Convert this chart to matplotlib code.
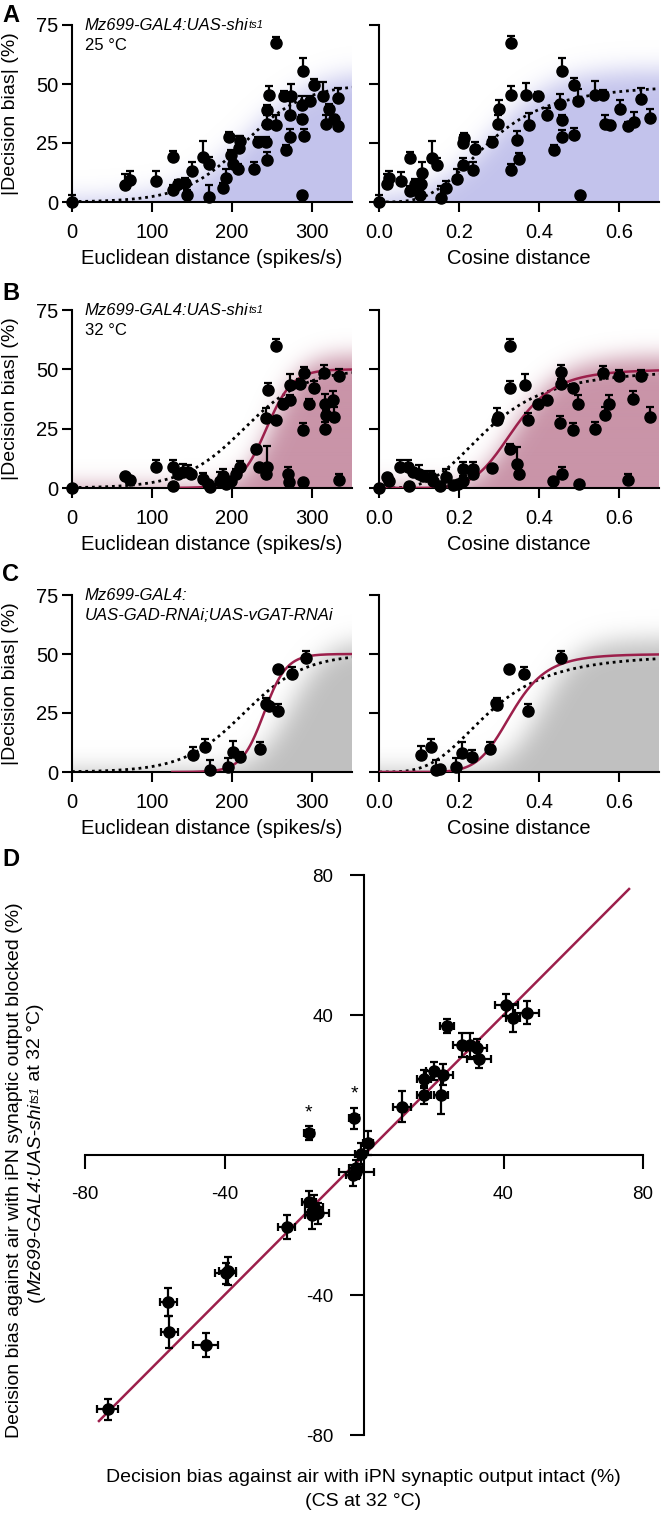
import numpy as np
import matplotlib as mpl
import matplotlib.pyplot as plt
from matplotlib.colors import to_rgb

mpl.rcParams.update({
    'font.family': ['Liberation Sans', 'DejaVu Sans'],
    'font.size': 14,
    'axes.linewidth': 1.5,
    'xtick.major.width': 1.5,
    'ytick.major.width': 1.5,
    'xtick.major.size': 7,
    'ytick.major.size': 7,
})

# ---------------- data: panel A (25 C) ----------------
a_euc_x = [0, 66, 72, 105, 126, 126, 132, 141, 144, 150, 164, 171, 171, 189, 193, 196, 199, 201, 208, 209,
           210, 228, 233, 243, 244, 244, 244, 246, 255, 255, 265, 268, 272, 273, 274, 287, 288, 289, 290, 288,
           297, 303, 314, 317, 321, 327, 333, 333]
a_euc_y = [0, 7, 9.5, 9, 19, 5, 7.5, 8, 3, 13, 19, 16, 2, 6, 10, 27.5, 20, 16, 14, 23,
           26, 14, 25.5, 25.5, 18, 33, 39, 45.5, 67.5, 32.5, 45, 22, 37, 27.5, 45, 35, 41, 55.5, 28, 3,
           43, 49.5, 45, 33, 39.5, 35, 44, 32]
a_euc_err = [3, 5, 3.5, 4, 2.5, 2, 2, 2, 2, 4, 7, 3, 5, 2, 4, 2, 2, 3, 2, 5,
             2, 3, 2, 2, 3, 4, 2, 3.5, 2.5, 4.5, 2, 2, 6, 3.5, 5, 2, 4, 5.5, 3, 0,
             2, 2.5, 6, 4, 2, 2, 4.5, 2]

a_cos_x = [0, 0.021, 0.025, 0.054, 0.077, 0.077, 0.09, 0.103, 0.108, 0.104, 0.132, 0.144, 0.154, 0.167,
           0.196, 0.21, 0.211, 0.212, 0.236, 0.24, 0.282, 0.298, 0.3, 0.329, 0.329, 0.329, 0.346, 0.35,
           0.367, 0.375, 0.3975, 0.419, 0.4375, 0.4525, 0.457, 0.458, 0.458, 0.4875, 0.4875, 0.4975,
           0.5025, 0.539, 0.56, 0.564, 0.578, 0.6025, 0.6225, 0.6375, 0.654, 0.6775]
a_cos_y = [0, 7.8, 10, 8.8, 18.8, 4.7, 7.8, 2.8, 12.3, 7.8, 18.8, 15.8, 1.8, 6.1,
           9.9, 15.8, 24.8, 27.3, 13.4, 22.3, 25.5, 33, 39.2, 13.7, 67.5, 45.5, 26.2, 18.4,
           45.3, 32.5, 44.8, 37, 22, 41.4, 34.7, 55.6, 27.6, 28.3, 49.5, 42.7,
           3, 45.3, 45.3, 33, 32.5, 39.6, 32, 34, 43.6, 35.4]
a_cos_err = [3, 4, 3, 4, 2.5, 2, 2, 2, 4.5, 2, 7, 3, 5, 3,
             4, 3, 3.5, 2, 3.5, 3, 2, 4, 4, 2.5, 3, 3.5, 4, 2.5,
             5, 5, 2, 3, 2, 4.5, 2, 5.5, 3, 3, 3, 5,
             0, 6, 2, 4, 2, 3.5, 2, 4, 4.5, 4]

# ---------------- data: panel B (32 C) ----------------
b_euc_x = [0, 66, 72, 105, 126, 126, 132, 139, 145, 149, 164, 170, 172, 185, 189, 193, 199, 205, 210, 230,
           234, 243, 244, 243, 255, 245, 255, 264, 270, 271, 272, 272, 285, 289, 290, 289, 296, 303, 315, 316,
           316, 318, 326, 328, 334, 334]
b_euc_y = [0, 5.2, 3.4, 9, 8.8, 1, 5.9, 6.6, 6.9, 5.9, 3.8, 1.7, 0.6, 3.1, 5.2, 1.7, 3.1, 5.9, 8.8, 16.5,
           8.8, 5.9, 8.8, 29.3, 28.6, 41.3, 59.7, 35.6, 5.9, 2.4, 37, 43.4, 44, 2.4, 48.4, 24.3, 35.6, 42, 48.4, 25,
           35.6, 30.7, 37, 30, 47.2, 3.4]
b_euc_err = [0, 0, 0, 3, 3, 0, 2, 3.5, 3, 1, 2.5, 0, 0, 3.5, 3, 0, 1, 2, 2.5, 0,
             0, 0, 9, 4.5, 0, 3, 3, 2, 3, 0, 2, 4.5, 2, 0, 2.5, 3, 2, 3, 3.5, 3,
             4, 2, 4, 4, 3, 2.5]

b_cos_x = [0, 0.019, 0.026, 0.0525, 0.073, 0.076, 0.086, 0.101, 0.111, 0.129, 0.134, 0.1525, 0.1675, 0.186,
           0.198, 0.211, 0.211, 0.236, 0.236, 0.282, 0.296, 0.298, 0.3275, 0.3275, 0.3275, 0.344, 0.351, 0.365,
           0.373, 0.397, 0.419, 0.436, 0.4525, 0.457, 0.454, 0.454, 0.486, 0.498, 0.486, 0.5, 0.54, 0.559,
           0.565, 0.576, 0.601, 0.623, 0.636, 0.654, 0.6775]
b_cos_y = [0, 4.8, 3.1, 8.8, 8.8, 1, 6.6, 5.9, 5.2, 4.5, 3.1, 0.7, 4.8, 1.4,
           1.7, 3.1, 8.1, 8.1, 5.9, 8.5, 28.6, 30, 16.5, 42, 59.7, 10.2, 5.9, 43.4,
           28.6, 35.6, 37, 2.8, 27.2, 5.9, 44, 49, 42, 35.6, 24.3, 1.7, 25, 48.4,
           30.7, 35.6, 47.2, 3.4, 37.3, 47.2, 30]
b_cos_err = [0, 0, 0, 3, 3, 0, 2, 4, 2, 2.5, 0, 0, 3, 0,
             0, 2, 3, 3, 0, 0, 5, 0, 2, 3, 3, 7, 0, 4.5,
             3, 0, 0, 0, 3, 3, 2, 3, 2, 3.5, 3, 0, 3, 3,
             3.5, 3.5, 2.5, 2.5, 3.5, 2.5, 4]

# ---------------- data: panel C (GAD/vGAT RNAi) ----------------
c_euc_x = [151, 166, 173, 195, 201, 210, 235, 243, 246, 257.5, 257.5, 275, 292]
c_euc_y = [7.2, 10.6, 0.7, 2.1, 8.6, 6.5, 9.6, 28.7, 28, 43.6, 26, 41.4, 48.2]
c_euc_err = [3.5, 3.5, 4.5, 4, 4.5, 2, 3, 2.5, 0, 0, 3, 3, 3]

c_cos_x = [0.106, 0.129, 0.143, 0.152, 0.193, 0.208, 0.233, 0.278, 0.295, 0.293, 0.326, 0.363, 0.3715, 0.455]
c_cos_y = [7.2, 10.6, 0.7, 1.1, 2.1, 8.2, 6.4, 9.6, 28.4, 29.4, 43.6, 41.4, 25.9, 48.1]
c_cos_err = [3.8, 3.5, 4.5, 0, 4, 4.5, 3, 3, 3, 0, 0, 3, 3, 3]

# fitted curves (parameters)
ctrl_euc_fit = [215, 38]        # logistic x0, slope (dotted, control)
ctrl_cos_fit = [0.274, 3.4]     # Hill k, n (dotted, control)
b_euc_fit = [243, 16.25]        # logistic (red)
b_cos_fit = [0.338, 6.45]       # Hill (red)
c_euc_fit = [240, 14]           # logistic (red)
c_cos_fit = [0.332, 7.5]        # Hill (red)
fit_top = 50

# ---------------- data: panel D ----------------
d_x = [40.8, 46.7, 42.6, 23.9, 28.1, 30.5, 32.3, 33.0, 20.2, 22.6, 17.2, 17.2, 22.0, 10.9, -15.8, -2.8,
       1.2, -1.0, -2.2, -2.2, -3.2, -15.8, -14.3, -13.1, -14.9, -22.2, -39.7, -39.1, -56.1, -55.8, -45.4, -73.5]
d_y = [42.9, 40.7, 39.1, 36.9, 31.4, 31.4, 30.7, 27.4, 24.0, 22.9, 21.7, 17.1, 17.1, 13.8, 6.2, 10.5,
       3.4, 0.3, -3.8, -4.8, -5.8, -13.3, -14.8, -16.6, -17.1, -20.6, -33.8, -33.0, -42.0, -50.5, -54.3, -72.6]
d_xerr = [3.3, 3.5, 2.0, 2.0, 2.5, 2.5, 3.0, 3.5, 2.5, 3.0, 2.0, 2.0, 2.0, 2.5, 1.5, 1.5,
          1.5, 1.5, 2.0, 5.0, 2.0, 2.0, 2.5, 3.0, 2.0, 2.5, 3.0, 2.5, 2.5, 2.5, 3.5, 3.0]
d_yerr = [3.2, 3.3, 4.0, 2.0, 3.5, 3.5, 2.5, 2.5, 2.5, 3.0, 2.5, 2.5, 5.5, 4.5, 2.0, 3.0,
          3.5, 3.0, 2.5, 2.0, 3.0, 3.0, 3.5, 3.0, 4.0, 3.5, 3.0, 4.0, 4.0, 4.5, 3.5, 3.0]
d_star = [14, 15]
d_line = [-76, 76]

RED = '#9c1f4b'
LAVENDER = '#c3c3ec'
MAUVE = '#c994a8'
GREY = '#c0c0c0'

W, H = 664, 1513
fig = plt.figure(figsize=(W / 100, H / 100), dpi=100)


def px_axes(left, top, right, bottom):
    return fig.add_axes([left / W, 1 - bottom / H, (right - left) / W, (bottom - top) / H])


def logistic(x, p):
    return fit_top / (1 + np.exp(-(np.asarray(x) - p[0]) / p[1]))


def hill(x, p):
    r = (np.asarray(x) / p[0]) ** p[1]
    return fit_top * r / (1 + r)


def shade(ax, xmax, boundary, color, sigma):
    # blurred fill under a boundary curve
    nx, ny = 280, 177
    xs = np.linspace(0, xmax, nx)
    ys = np.linspace(0, 75, ny)
    mask = (ys[:, None] <= boundary(xs)[None, :]).astype(float)
    r = int(3 * sigma)
    k = np.exp(-0.5 * (np.arange(-r, r + 1) / sigma) ** 2)
    k /= k.sum()
    m = np.pad(mask, r, mode='edge')
    m = np.apply_along_axis(lambda v: np.convolve(v, k, mode='same'), 0, m)
    m = np.apply_along_axis(lambda v: np.convolve(v, k, mode='same'), 1, m)
    m = m[r:-r, r:-r]
    img = np.zeros((ny, nx, 4))
    img[..., :3] = to_rgb(color)
    img[..., 3] = np.clip(m, 0, 1)
    ax.imshow(img, extent=[0, xmax, 0, 75], origin='lower', aspect='auto',
              interpolation='bilinear', zorder=0)


def style_panel(ax, xmax, xticks, xticklabels, xlabel, left):
    ax.set_xlim(0, xmax)
    ax.set_ylim(0, 75)
    for s in ['top', 'right']:
        ax.spines[s].set_visible(False)
    ax.spines['left'].set_bounds(0, 75)
    ax.set_xticks(xticks)
    ax.set_xticklabels(xticklabels)
    ax.set_yticks([0, 25, 50, 75])
    ax.tick_params(axis='x', pad=8, labelsize=14.5)
    ax.tick_params(axis='y', pad=3, labelsize=14.5)
    if left:
        ax.set_ylabel('|Decision bias| (%)', fontsize=14)
        ax.yaxis.set_label_coords(-0.19, 0.5)
    else:
        ax.set_yticklabels([])
    ax.set_xlabel(xlabel, fontsize=14.5)
    ax.xaxis.set_label_coords(0.5, -0.265)


def points(ax, x, y, err):
    cont = ax.errorbar(x, y, yerr=[np.zeros(len(err)), err], fmt='o', color='black',
                       ms=8, elinewidth=1.6, capsize=3.2, capthick=1.6, zorder=5)
    arts = [cont.lines[0]] + list(cont.lines[1]) + list(cont.lines[2])
    for art in arts:
        art.set_clip_on(False)


def genotype(ax, main, sup, second):
    t = ax.text(0.045, 1.04, main, transform=ax.transAxes, style='italic', fontsize=12,
                va='top', ha='left')
    if sup:
        ax.annotate(sup, xy=(1, 1), xycoords=t, xytext=(0.3, -1.5), textcoords='offset points',
                    style='italic', fontsize=8, va='top', ha='left')
    ax.text(0.045, 0.928, second, transform=ax.transAxes, fontsize=12, va='top', ha='left',
            style='italic' if 'UAS' in second else 'normal')


rows = [(25, 202), (310, 488), (595, 772)]
euc_ticks = [0, 100, 200, 300]
cos_ticks = [0, 0.2, 0.4, 0.6]
cos_labels = ['0.0', '0.2', '0.4', '0.6']
xs_euc = np.linspace(0, 350, 400)
xs_cos = np.linspace(0.0005, 0.7, 400)

axes = []
for top, bottom in rows:
    axL = px_axes(72, top, 352, bottom)
    axR = px_axes(379, top, 659, bottom)
    axes.append((axL, axR))

# Panel A
axL, axR = axes[0]
shade(axL, 350, lambda x: 56 / (1 + np.exp(-(x - 222) / 42)), LAVENDER, 12)
shade(axR, 0.7, lambda x: 56 / (1 + np.exp(-(x - 0.285) / 0.075)), LAVENDER, 12)
axL.plot(xs_euc, logistic(xs_euc, ctrl_euc_fit), color='black', ls=(0, (1, 1.4)), lw=2, zorder=3)
axR.plot(xs_cos, hill(xs_cos, ctrl_cos_fit), color='black', ls=(0, (1, 1.4)), lw=2, zorder=3)
points(axL, a_euc_x, a_euc_y, a_euc_err)
points(axR, a_cos_x, a_cos_y, a_cos_err)
genotype(axL, 'Mz699-GAL4:UAS-shi', 'ts1', '25 °C')

# Panel B
axL, axR = axes[1]
shade(axL, 350, lambda x: 56 / (1 + np.exp(-(x - 252) / 18)), MAUVE, 11)
shade(axR, 0.7, lambda x: 1.12 * hill(x, [0.35, 6.5]), MAUVE, 11)
axL.plot(xs_euc, logistic(xs_euc, ctrl_euc_fit), color='black', ls=(0, (1, 1.4)), lw=2, zorder=3)
axR.plot(xs_cos, hill(xs_cos, ctrl_cos_fit), color='black', ls=(0, (1, 1.4)), lw=2, zorder=3)
xr = xs_euc[xs_euc >= 125]
axL.plot(xr, logistic(xr, b_euc_fit), color=RED, lw=1.8, zorder=4)
axR.plot(xs_cos, hill(xs_cos, b_cos_fit), color=RED, lw=1.8, zorder=4)
points(axL, b_euc_x, b_euc_y, b_euc_err)
points(axR, b_cos_x, b_cos_y, b_cos_err)
genotype(axL, 'Mz699-GAL4:UAS-shi', 'ts1', '32 °C')

# Panel C
axL, axR = axes[2]
shade(axL, 350, lambda x: 56 / (1 + np.exp(-(x - 275) / 22)), GREY, 12)
shade(axR, 0.7, lambda x: 56 / (1 + np.exp(-(x - 0.41) / 0.045)), GREY, 12)
axL.plot(xs_euc, logistic(xs_euc, ctrl_euc_fit), color='black', ls=(0, (1, 1.4)), lw=2, zorder=3)
axR.plot(xs_cos, hill(xs_cos, ctrl_cos_fit), color='black', ls=(0, (1, 1.4)), lw=2, zorder=3)
axL.plot(xr, logistic(xr, c_euc_fit), color=RED, lw=1.8, zorder=4)
axR.plot(xs_cos, hill(xs_cos, c_cos_fit), color=RED, lw=1.8, zorder=4)
points(axL, c_euc_x, c_euc_y, c_euc_err)
points(axR, c_cos_x, c_cos_y, c_cos_err)
genotype(axL, 'Mz699-GAL4:', None, 'UAS-GAD-RNAi;UAS-vGAT-RNAi')

for axL, axR in axes:
    style_panel(axL, 350, euc_ticks, [str(t) for t in euc_ticks], 'Euclidean distance (spikes/s)', True)
    style_panel(axR, 0.7, cos_ticks, cos_labels, 'Cosine distance', False)

# Panel D
axD = px_axes(85, 875, 643, 1435)
axD.plot(d_line, d_line, color=RED, lw=1.8, zorder=3)
cont = axD.errorbar(d_x, d_y, xerr=d_xerr, yerr=d_yerr, fmt='o', color='black', ms=8,
                    elinewidth=1.6, capsize=3.2, capthick=1.6, zorder=5)
for i in d_star:
    axD.text(d_x[i], d_y[i] + d_yerr[i] + 1.5, '*', ha='center', va='bottom', fontsize=14)
axD.set_xlim(-80, 80)
axD.set_ylim(-80, 80)
for s in ['top', 'right']:
    axD.spines[s].set_visible(False)
axD.spines['left'].set_position(('data', 0))
axD.spines['bottom'].set_position(('data', 0))
axD.spines['left'].set_bounds(-80, 80)
axD.spines['bottom'].set_bounds(-80, 80)
d_ticks = [-80, -40, 40, 80]
axD.set_xticks(d_ticks)
axD.set_xticklabels([str(t) for t in d_ticks])
axD.set_yticks(d_ticks)
axD.set_yticklabels([str(t) for t in d_ticks])
axD.tick_params(length=10, pad=12, labelsize=13.5)

# Panel D axis labels
fig.text(363 / W, 1 - 1477 / H, 'Decision bias against air with iPN synaptic output intact (%)',
         ha='center', va='center', fontsize=14)
fig.text(363 / W, 1 - 1501 / H, '(CS at 32 °C)', ha='center', va='center', fontsize=14)
fig.text(15 / W, 1 - 1170 / H, 'Decision bias against air with iPN synaptic output blocked (%)',
         rotation=90, ha='center', va='center', fontsize=14)
p1 = fig.text(36 / W, 1 - 1302 / H, '(', rotation=90, ha='center', va='bottom', fontsize=14)
p2 = axD.annotate('Mz699-GAL4:UAS-shi', xy=(0.5, 1), xycoords=p1, rotation=90, style='italic',
                  fontsize=14, ha='center', va='bottom', annotation_clip=False)
p3 = axD.annotate('ts1', xy=(0, 1), xycoords=p2, xytext=(1.5, 0.3), textcoords='offset points',
                  rotation=90, style='italic', fontsize=9, ha='left', va='bottom', annotation_clip=False)
axD.annotate(' at 32 °C)', xy=(0.5, 1), xycoords=(p2, p3), rotation=90, fontsize=14,
             ha='center', va='bottom', annotation_clip=False)

# panel letters
for letter, y in [('A', 4), ('B', 282), ('C', 563), ('D', 848)]:
    fig.text(2 / W, 1 - y / H, letter, fontsize=17, fontweight='bold', va='top', ha='left')

fig.savefig('out.png', dpi=100)
